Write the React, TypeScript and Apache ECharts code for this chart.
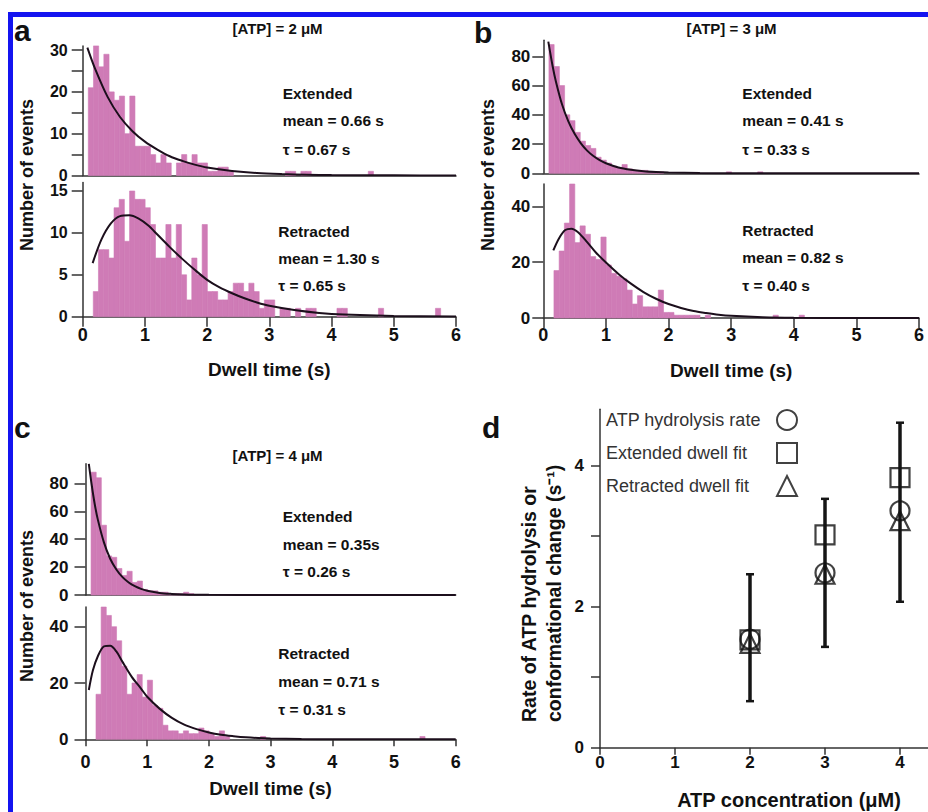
import { useEffect, useRef } from "react";
import * as echarts from "echarts";

const FONT = '"Liberation Sans", Arial, Helvetica, sans-serif';
const PINK = "#cf7bb6";
const CURVE = "#1c0f1c";
const AXIS = "#333333";
const INK = "#111111";
const FRAME = "#1414f0";

const BIN_WIDTH = 1 / 12;
const DWELL_TICKS = [0, 1, 2, 3, 4, 5, 6];

// ---- panel a : [ATP] = 2 µM ----
const aExtStart = 0.09;
const aExtCounts = [21, 31, 26, 29, 20, 18, 19, 10, 19, 7, 7, 7, 5, 3, 5, 3, 0, 3, 5, 3, 5, 3, 3, 1, 1, 2, 2, 1, 0, 0, 0, 0, 0, 0, 0, 0, 0, 0, 1, 1, 0, 1, 1, 0, 0, 0, 0, 0, 0, 0, 0, 0, 0, 0, 1];
const aRetStart = 0.17;
const aRetCounts = [3, 8, 8, 7, 13, 14, 9, 15, 14, 14, 13, 11, 7, 7, 11, 7, 11, 5, 2, 7, 5, 11, 3, 3, 2, 2, 3, 4, 4, 3, 4, 3, 1, 2, 2, 0, 1, 1, 0, 1, 0, 1, 1, 0, 0, 0, 0, 1, 1, 0, 0, 0, 0, 0, 0, 1, 0, 0, 0, 0, 0, 0, 0, 0, 0, 0, 1];
const aExtFitT = [0.075, 0.2, 0.4, 0.6, 0.8, 1.0, 1.2, 1.4, 1.6, 1.8, 2.0, 2.4, 2.8, 3.2, 3.6, 4.0, 5.0, 6.0];
const aExtFitY = [30.6, 25.5, 18.8, 14, 10.6, 8.1, 6.2, 4.6, 3.5, 2.6, 1.9, 1.1, 0.6, 0.35, 0.2, 0.1, 0.03, 0];
const aRetFitT = [0.16, 0.3, 0.45, 0.6, 0.75, 0.9, 1.05, 1.2, 1.4, 1.6, 1.8, 2.0, 2.2, 2.4, 2.6, 2.8, 3.0, 3.4, 3.8, 4.2, 5.0, 6.0];
const aRetFitY = [6.4, 9.2, 11.1, 12.0, 12.1, 11.7, 10.9, 9.8, 8.3, 6.9, 5.6, 4.4, 3.5, 2.8, 2.2, 1.7, 1.3, 0.8, 0.45, 0.25, 0.08, 0.02];

// ---- panel b : [ATP] = 3 µM ----
const bExtStart = 0.09;
const bExtCounts = [88, 73, 60, 40, 36, 28, 22, 19, 17, 11, 9, 7, 5, 4, 6, 3, 2, 2, 2, 1, 1, 1, 0, 0, 0, 0, 0, 0, 0, 0, 0, 0, 0, 0, 1, 0, 0, 0, 0, 0, 1];
const bRetStart = 0.17;
const bRetCounts = [17, 24, 34, 48, 27, 33, 30, 22, 21, 29, 19, 16, 15, 14, 10, 5, 8, 4, 4, 4, 10, 2, 2, 1, 1, 1, 1, 1, 0, 1, 0, 0, 0, 0, 0, 0, 0, 0, 0, 0, 0, 0, 1, 0, 0, 0, 0, 1];
const bExtFitT = [0.08, 0.15, 0.2, 0.3, 0.4, 0.5, 0.6, 0.7, 0.8, 0.9, 1.0, 1.2, 1.4, 1.6, 1.8, 2.0, 2.5, 3.0, 4.0, 6.0];
const bExtFitY = [90, 73, 63, 47, 35.5, 27, 20.5, 15.5, 11.8, 9, 6.9, 4.0, 2.4, 1.4, 0.85, 0.5, 0.15, 0.05, 0, 0];
const bRetFitT = [0.16, 0.25, 0.35, 0.45, 0.55, 0.7, 0.85, 1.0, 1.2, 1.4, 1.6, 1.8, 2.0, 2.2, 2.4, 2.6, 2.8, 3.0, 3.5, 4.0, 5.0, 6.0];
const bRetFitY = [24.2, 28.5, 31.5, 32, 30.8, 27.2, 23.2, 19.9, 15.8, 12.3, 9.3, 6.9, 5.0, 3.6, 2.5, 1.8, 1.2, 0.8, 0.3, 0.1, 0.02, 0];

// ---- panel c : [ATP] = 4 µM ----
const cExtStart = 0.09;
const cExtCounts = [88, 84, 50, 28, 27, 19, 14, 17, 9, 10, 4, 3, 3, 2, 2, 1, 1, 1, 2, 1];
const cRetStart = 0.17;
const cRetCounts = [16, 47, 44, 40, 35, 26, 16, 20, 23, 15, 21, 12, 11, 5, 3, 3, 2, 3, 2, 2, 4, 3, 2, 1, 3, 1, 0, 0, 0, 0, 0, 0, 1, 0, 0, 0, 0, 0, 0, 0, 0, 0, 0, 0, 0, 0, 0, 0, 0, 0, 0, 0, 0, 0, 0, 0, 0, 0, 0, 0, 0, 0, 0, 1];
const cExtFitT = [0.054, 0.1, 0.15, 0.2, 0.3, 0.4, 0.5, 0.6, 0.7, 0.8, 0.9, 1.0, 1.2, 1.4, 1.6, 1.8, 2.0, 3.0, 6.0];
const cExtFitY = [94, 79, 65, 54, 37.5, 26, 18.3, 12.8, 9, 6.3, 4.4, 3.1, 1.5, 0.8, 0.4, 0.2, 0.1, 0, 0];
const cRetFitT = [0.054, 0.12, 0.2, 0.3, 0.4, 0.5, 0.6, 0.75, 0.9, 1.0, 1.2, 1.4, 1.6, 1.8, 2.0, 2.2, 2.4, 2.6, 2.8, 3.0, 3.5, 4.0, 6.0];
const cRetFitY = [17.5, 24.5, 29.5, 33, 33.2, 31.2, 27.5, 22.2, 18, 15.1, 10.9, 7.6, 5.2, 3.6, 2.4, 1.6, 1.1, 0.7, 0.45, 0.3, 0.1, 0.03, 0];

// ---- panel d ----
const atpConc = [2, 3, 4];
const hydrolysisRate = [1.54, 2.48, 3.36];
const extendedFitRate = [1.53, 3.02, 3.83];
const retractedFitRate = [1.48, 2.46, 3.22];
const rateErrLow = [0.66, 1.43, 2.07];
const rateErrHigh = [2.46, 3.53, 4.61];
const dXTicks = [0, 1, 2, 3, 4];
const dYTicks = [0, 1, 2, 3, 4];
const dYLabels = [0, 2, 4];
const legendNames = ["ATP hydrolysis rate", "Extended dwell fit", "Retracted dwell fit"];

type Panel = {
  grid: { left: number; top: number; width: number; height: number };
  yMax: number;
  yTicks: number[];
  yLabels: number[];
  bottom: boolean;
  labelMargin: number;
  labelFont: number;
  labelPad: number[];
  xLabelMargin: number;
  nameGap: number;
  xTickLen: number;
  start: number;
  counts: number[];
  fitT: number[];
  fitY: number[];
};

const panels: Panel[] = [
  { grid: { left: 82.7, top: 45.9, width: 373.3, height: 129.6 }, yMax: 31, yTicks: [0, 5, 10, 15, 20, 25, 30], yLabels: [0, 10, 20, 30], bottom: false, labelMargin: 15, labelFont: 16, labelPad: [0, 0, 4, 0], xLabelMargin: 9, nameGap: 0, xTickLen: 10, start: aExtStart, counts: aExtCounts, fitT: aExtFitT, fitY: aExtFitY },
  { grid: { left: 82.7, top: 182.6, width: 373.3, height: 134.1 }, yMax: 16, yTicks: [0, 5, 10, 15], yLabels: [0, 5, 10, 15], bottom: true, labelMargin: 15, labelFont: 16, labelPad: [4, 0, 0, 0], xLabelMargin: 9, nameGap: 43, xTickLen: 10, start: aRetStart, counts: aRetCounts, fitT: aRetFitT, fitY: aRetFitY },
  { grid: { left: 543.3, top: 40.2, width: 375.7, height: 133.1 }, yMax: 91, yTicks: [0, 20, 40, 60, 80], yLabels: [0, 20, 40, 60, 80], bottom: false, labelMargin: 13, labelFont: 17, labelPad: [0, 0, 0, 0], xLabelMargin: 9, nameGap: 0, xTickLen: 10, start: bExtStart, counts: bExtCounts, fitT: bExtFitT, fitY: bExtFitY },
  { grid: { left: 543.3, top: 184, width: 375.7, height: 134 }, yMax: 48, yTicks: [0, 20, 40], yLabels: [0, 20, 40], bottom: true, labelMargin: 13, labelFont: 17, labelPad: [0, 0, 0, 0], xLabelMargin: 8, nameGap: 43, xTickLen: 10, start: bRetStart, counts: bRetCounts, fitT: bRetFitT, fitY: bRetFitY },
  { grid: { left: 85.5, top: 463.8, width: 370.2, height: 131.2 }, yMax: 94, yTicks: [0, 20, 40, 60, 80], yLabels: [0, 20, 40, 60, 80], bottom: false, labelMargin: 17, labelFont: 17, labelPad: [0, 0, 0, 0], xLabelMargin: 9, nameGap: 0, xTickLen: 7, start: cExtStart, counts: cExtCounts, fitT: cExtFitT, fitY: cExtFitY },
  { grid: { left: 85.5, top: 607, width: 370.2, height: 132.3 }, yMax: 47, yTicks: [0, 20, 40], yLabels: [0, 20, 40], bottom: true, labelMargin: 17, labelFont: 17, labelPad: [0, 0, 0, 0], xLabelMargin: 14, nameGap: 40, xTickLen: 7, start: cRetStart, counts: cRetCounts, fitT: cRetFitT, fitY: cRetFitY },
];

const dGrid = { left: 600, top: 409.3, width: 330, height: 338.4 };

const tickLabelStyle = { fontWeight: "bold" as const, color: INK, fontFamily: FONT };

function textEl(text: string, x: number, y: number, font: string, align = "left", extra: any = {}) {
  return {
    type: "text",
    x,
    y,
    silent: true,
    ...extra,
    style: {
      text,
      font,
      fill: extra.fill || INK,
      textAlign: align,
      textVerticalAlign: "middle",
      align,
      verticalAlign: "middle",
    },
  };
}

export default function App() {
  const ref = useRef<HTMLDivElement>(null);

  useEffect(() => {
    if (!ref.current) return;
    const chart = echarts.init(ref.current, undefined, { renderer: "svg" });

    const grids: any[] = [];
    const xAxes: any[] = [];
    const yAxes: any[] = [];
    const series: any[] = [];

    const renderBar = (_params: any, api: any) => {
      const p0 = api.coord([api.value(0), api.value(2)]);
      const p1 = api.coord([api.value(1), 0]);
      return {
        type: "rect",
        shape: { x: p0[0], y: p0[1], width: p1[0] - p0[0], height: p1[1] - p0[1] },
        style: { fill: PINK, stroke: PINK, lineWidth: 0.6 },
      };
    };

    panels.forEach((p, i) => {
      grids.push({ ...p.grid, containLabel: false, outerBoundsMode: "none" });
      xAxes.push({
        type: "value",
        gridIndex: i,
        min: 0,
        max: 6,
        splitLine: { show: false },
        axisLine: { show: true, onZero: false, lineStyle: { color: AXIS, width: 1.5 } },
        axisTick: p.bottom
          ? { show: true, length: p.xTickLen, customValues: DWELL_TICKS, lineStyle: { color: AXIS, width: 1.5 } }
          : { show: false },
        axisLabel: p.bottom
          ? { show: true, customValues: DWELL_TICKS, margin: p.xLabelMargin, ...tickLabelStyle, fontSize: 18 }
          : { show: false },
        name: p.bottom ? "Dwell time (s)" : "",
        nameLocation: "middle",
        nameGap: p.nameGap,
        nameTextStyle: { fontSize: 19, fontWeight: "bold", color: INK, fontFamily: FONT },
      });
      yAxes.push({
        type: "value",
        gridIndex: i,
        min: 0,
        max: p.yMax,
        splitLine: { show: false },
        axisLine: { show: true, onZero: false, lineStyle: { color: AXIS, width: 1.5 } },
        axisTick: { show: true, length: 11, customValues: p.yTicks, lineStyle: { color: AXIS, width: 1.5 } },
        axisLabel: {
          show: true,
          customValues: p.yLabels,
          margin: p.labelMargin,
          ...tickLabelStyle,
          fontSize: p.labelFont,
          padding: p.labelPad,
        },
      });
      series.push({
        type: "custom",
        xAxisIndex: i,
        yAxisIndex: i,
        silent: true,
        z: 1,
        renderItem: renderBar,
        encode: { x: [0, 1], y: 2 },
        data: p.counts
          .map((c, k) => [p.start + k * BIN_WIDTH, p.start + (k + 1) * BIN_WIDTH, c])
          .filter((d) => d[2] > 0),
      });
      series.push({
        type: "line",
        xAxisIndex: i,
        yAxisIndex: i,
        silent: true,
        z: 3,
        smooth: 0.3,
        symbol: "none",
        showSymbol: false,
        lineStyle: { color: CURVE, width: 2 },
        data: p.fitT.map((t, k) => [t, p.fitY[k]]),
      });
    });

    // panel d
    const di = panels.length;
    grids.push({ ...dGrid, containLabel: false, outerBoundsMode: "none" });
    xAxes.push({
      type: "value",
      gridIndex: di,
      min: 0,
      max: 4.4,
      splitLine: { show: false },
      axisLine: { show: true, onZero: false, lineStyle: { color: AXIS, width: 1.5 } },
      axisTick: { show: true, length: 7, customValues: dXTicks, lineStyle: { color: AXIS, width: 1.5 } },
      axisLabel: { show: true, customValues: dXTicks, margin: 6, fontSize: 17, fontWeight: "bold", color: INK, fontFamily: FONT },
      name: "ATP concentration (μM)",
      nameLocation: "middle",
      nameGap: 42,
      nameTextStyle: { fontSize: 20, fontWeight: "bold", color: INK, fontFamily: FONT, padding: [0, 0, 0, 48] },
    });
    yAxes.push({
      type: "value",
      gridIndex: di,
      min: 0,
      max: 4.8,
      splitLine: { show: false },
      axisLine: { show: true, onZero: false, lineStyle: { color: AXIS, width: 1.5 } },
      axisTick: { show: true, length: 9, customValues: dYTicks, lineStyle: { color: AXIS, width: 1.5 } },
      axisLabel: { show: true, customValues: dYLabels, margin: 16, fontSize: 17, fontWeight: "bold", color: INK, fontFamily: FONT },
    });
    series.push({
      type: "custom",
      name: "error",
      xAxisIndex: di,
      yAxisIndex: di,
      silent: true,
      z: 2,
      encode: { x: 0, y: [1, 2] },
      data: atpConc.map((x, k) => [x, rateErrLow[k], rateErrHigh[k]]),
      renderItem: (_params: any, api: any) => {
        const lo = api.coord([api.value(0), api.value(1)]);
        const hi = api.coord([api.value(0), api.value(2)]);
        const st = { stroke: "#151515", lineWidth: 3.5 };
        const cap = { stroke: "#151515", lineWidth: 2.5 };
        return {
          type: "group",
          children: [
            { type: "line", shape: { x1: lo[0], y1: lo[1], x2: hi[0], y2: hi[1] }, style: st },
            { type: "line", shape: { x1: hi[0] - 4, y1: hi[1], x2: hi[0] + 4, y2: hi[1] }, style: cap },
            { type: "line", shape: { x1: lo[0] - 4, y1: lo[1], x2: lo[0] + 4, y2: lo[1] }, style: cap },
          ],
        };
      },
    });
    const markerStyle = { color: "transparent", borderColor: "#111", borderWidth: 2.2 };
    const mk = (name: string, symbol: string, vals: number[]) => ({
      type: "scatter",
      name,
      xAxisIndex: di,
      yAxisIndex: di,
      symbol,
      symbolSize: 19,
      z: 4,
      silent: true,
      itemStyle: markerStyle,
      data: atpConc.map((x, k) => [x, vals[k]]),
    });
    series.push(mk(legendNames[0], "circle", hydrolysisRate));
    series.push(mk(legendNames[1], "rect", extendedFitRate));
    series.push(mk(legendNames[2], "triangle", retractedFitRate));

    const B = (s: number) => `bold ${s}px ${FONT}`;
    const graphic: any[] = [
      { type: "rect", silent: true, shape: { x: 8, y: 12, width: 925, height: 5 }, style: { fill: FRAME } },
      { type: "rect", silent: true, shape: { x: 8, y: 12, width: 5, height: 805 }, style: { fill: FRAME } },
      textEl("a", 14, 30, B(30)),
      textEl("b", 474, 32, B(30)),
      textEl("c", 14, 427, B(30)),
      textEl("d", 482, 427, B(30)),
      textEl("[ATP] = 2 μM", 277.5, 28, B(15), "center"),
      textEl("[ATP] = 3 μM", 731.5, 28, B(15), "center"),
      textEl("[ATP] = 4 μM", 277.5, 455, B(15), "center"),
      textEl("Extended", 282.7, 93.3, B(15.5)),
      textEl("mean = 0.66 s", 282.7, 120.7, B(15.5)),
      textEl("τ = 0.67 s", 282.7, 149, B(15.5)),
      textEl("Retracted", 278.3, 231, B(15.5)),
      textEl("mean = 1.30 s", 278.3, 258, B(15.5)),
      textEl("τ = 0.65 s", 278.3, 285, B(15.5)),
      textEl("Extended", 742.3, 93.3, B(15.5)),
      textEl("mean = 0.41 s", 742.3, 120.7, B(15.5)),
      textEl("τ = 0.33 s", 742.3, 149, B(15.5)),
      textEl("Retracted", 742.3, 230, B(15.5)),
      textEl("mean = 0.82 s", 742.3, 257.7, B(15.5)),
      textEl("τ = 0.40 s", 742.3, 285, B(15.5)),
      textEl("Extended", 282.7, 516.7, B(15.5)),
      textEl("mean = 0.35s", 282.7, 544, B(15.5)),
      textEl("τ = 0.26 s", 282.7, 571.7, B(15.5)),
      textEl("Retracted", 278.3, 653.3, B(15.5)),
      textEl("mean = 0.71 s", 278.3, 681.7, B(15.5)),
      textEl("τ = 0.31 s", 278.3, 709.3, B(15.5)),
      textEl("Number of events", 27, 175, B(18), "center", { rotation: Math.PI / 2 }),
      textEl("Number of events", 488, 175, B(18), "center", { rotation: Math.PI / 2 }),
      textEl("Number of events", 27, 606, B(18), "center", { rotation: Math.PI / 2 }),
      textEl("Rate of ATP hydrolysis or", 529, 722, B(19.5), "left", { rotation: Math.PI / 2 }),
      textEl("conformational change (s⁻¹)", 554, 722, B(19.5), "left", { rotation: Math.PI / 2 }),
    ];

    chart.setOption({
      animation: false,
      backgroundColor: "#ffffff",
      textStyle: { fontFamily: FONT },
      grid: grids,
      xAxis: xAxes,
      yAxis: yAxes,
      series,
      graphic,
      legend: {
        orient: "vertical",
        left: 606,
        top: 409,
        align: "right",
        padding: 0,
        itemWidth: 20,
        itemHeight: 20,
        itemGap: 11,
        selectedMode: false,
        itemStyle: { color: "transparent", borderColor: "#111", borderWidth: 2 },
        formatter: (name: string) => `{t|${name}}`,
        textStyle: {
          fontSize: 18,
          color: "#333",
          fontFamily: FONT,
          rich: { t: { width: 166, align: "left", fontSize: 18, color: "#333", fontFamily: FONT } },
        },
        data: legendNames,
      },
    });

    return () => chart.dispose();
  }, []);

  return (
    <div
      ref={ref}
      style={{ position: "absolute", left: 0, top: 0, width: 928, height: 812, background: "#fff" }}
    />
  );
}
